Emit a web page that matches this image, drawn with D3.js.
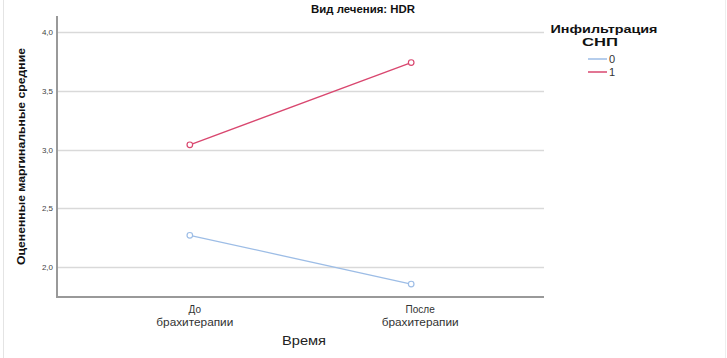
<!DOCTYPE html>
<html>
<head>
<meta charset="utf-8">
<script src="https://cdn.jsdelivr.net/npm/d3@7"></script>
<style>
  body { margin: 0; background: #fff; }
  svg { display: block; font-family: Arial, "Liberation Sans", sans-serif; }
</style>
</head>
<body>
<div id="chart"></div>
<script>
const categories = ["До\nбрахитерапии", "После\nбрахитерапии"];
const groups = ["0", "1"];
const group0 = [2.27, 1.855];
const group1 = [3.04, 3.74];
const yTicks = [2.0, 2.5, 3.0, 3.5, 4.0];

const width = 727, height = 358;
const plot = {left: 57, right: 544, top: 16, bottom: 297};

const svg = d3.select("#chart").append("svg")
    .attr("width", width)
    .attr("height", height);

// faint frame of the original export
svg.append("line").attr("x1", 3.5).attr("x2", 3.5).attr("y1", 0).attr("y2", height)
    .attr("stroke", "#e4e4e4");
svg.append("line").attr("x1", 725.5).attr("x2", 725.5).attr("y1", 0).attr("y2", height)
    .attr("stroke", "#eeeeee");

const x = d3.scalePoint()
    .domain(categories)
    .range([plot.left, plot.right])
    .padding(0.6);

const y = d3.scaleLinear()
    .domain([1.745, 4.136])
    .range([plot.bottom, plot.top]);

const color = d3.scaleOrdinal()
    .domain(groups)
    .range(["#9dbde6", "#d9476f"]);

// gridlines
svg.append("g")
    .selectAll("line")
    .data(yTicks)
    .join("line")
    .attr("x1", plot.left)
    .attr("x2", plot.right)
    .attr("y1", d => Math.round(y(d)) + 0.5)
    .attr("y2", d => Math.round(y(d)) + 0.5)
    .attr("stroke", "#d9d9d9")
    .attr("stroke-width", 1.5);

// y axis
const yAxis = svg.append("g")
    .attr("transform", `translate(${plot.left},0)`)
    .call(d3.axisLeft(y).tickValues(yTicks).tickSize(0).tickFormat(d => d3.format(".1f")(d).replace(".", ",")));
yAxis.select(".domain").remove();
yAxis.selectAll("text").attr("fill", "#444").style("font-size", "8px").attr("x", -4);
svg.append("line")
    .attr("x1", plot.left).attr("x2", plot.left).attr("y1", plot.top).attr("y2", plot.bottom)
    .attr("stroke", "#999").attr("stroke-width", 2);

// x axis
svg.append("line")
    .attr("x1", plot.left - 1).attr("x2", plot.right).attr("y1", plot.bottom).attr("y2", plot.bottom)
    .attr("stroke", "#999").attr("stroke-width", 2);

const xLabels = svg.append("g")
    .selectAll("text")
    .data(categories)
    .join("text")
    .attr("x", (d, i) => x(d) + (i === 0 ? 5 : 9))
    .attr("y", 313)
    .attr("text-anchor", "middle")
    .attr("fill", "#333")
    .style("font-size", "10px");
xLabels.selectAll("tspan")
    .data(d => d.split("\n"))
    .join("tspan")
    .attr("x", function() { return d3.select(this.parentNode).attr("x"); })
    .attr("dy", (d, i) => i === 0 ? 0 : 13)
    .attr("textLength", (d, i) => i === 0 ? null : 77)
    .attr("lengthAdjust", "spacingAndGlyphs")
    .text(d => d);

// lines
const line = d3.line()
    .x((d, i) => x(categories[i]))
    .y(d => y(d));

const series = [group0, group1];
series.forEach((vals, k) => {
    svg.append("path")
        .datum(vals)
        .attr("d", line)
        .attr("fill", "none")
        .attr("stroke", color(groups[k]))
        .attr("stroke-width", 1.3);
    svg.append("g")
        .selectAll("circle")
        .data(vals)
        .join("circle")
        .attr("cx", (d, i) => x(categories[i]))
        .attr("cy", d => y(d))
        .attr("r", 2.8)
        .attr("fill", "#fff")
        .attr("stroke", color(groups[k]))
        .attr("stroke-width", 1.2);
});

// titles
svg.append("text")
    .attr("x", 363).attr("y", 13)
    .attr("text-anchor", "middle")
    .style("font-size", "10px").style("font-weight", "bold")
    .attr("textLength", 104).attr("lengthAdjust", "spacingAndGlyphs")
    .attr("fill", "#111")
    .text("Вид лечения: HDR");

svg.append("text")
    .attr("transform", `translate(25,156.5) rotate(-90)`)
    .attr("text-anchor", "middle")
    .style("font-size", "11px").style("font-weight", "bold")
    .attr("textLength", 217).attr("lengthAdjust", "spacingAndGlyphs")
    .attr("fill", "#111")
    .text("Оцененные маргинальные средние");

svg.append("text")
    .attr("x", 304).attr("y", 345)
    .attr("text-anchor", "middle")
    .style("font-size", "13px")
    .attr("textLength", 44).attr("lengthAdjust", "spacingAndGlyphs")
    .attr("fill", "#222")
    .text("Время");

// legend
const legend = svg.append("g");
legend.append("text")
    .attr("x", 604).attr("y", 33)
    .attr("text-anchor", "middle")
    .style("font-size", "11px").style("font-weight", "bold")
    .attr("textLength", 107).attr("lengthAdjust", "spacingAndGlyphs")
    .attr("fill", "#111")
    .text("Инфильтрация");
legend.append("text")
    .attr("x", 600).attr("y", 46)
    .attr("text-anchor", "middle")
    .style("font-size", "11px").style("font-weight", "bold")
    .attr("textLength", 36).attr("lengthAdjust", "spacingAndGlyphs")
    .attr("fill", "#111")
    .text("СНП");

const items = legend.selectAll("g.item")
    .data(groups)
    .join("g")
    .attr("class", "item")
    .attr("transform", (d, i) => `translate(0,${59 + i * 13})`);
items.append("line")
    .attr("x1", 588).attr("x2", 607)
    .attr("stroke", d => color(d))
    .attr("stroke-width", 1.5);
items.append("text")
    .attr("x", 609).attr("y", 4)
    .style("font-size", "11px")
    .attr("fill", "#333")
    .text(d => d);
</script>
</body>
</html>
